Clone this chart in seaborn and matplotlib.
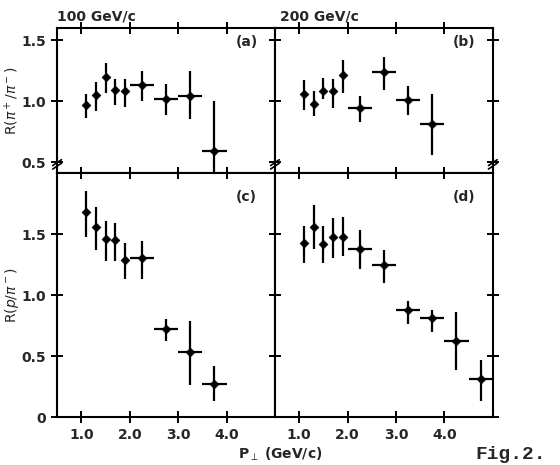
import matplotlib
matplotlib.use("Agg")
import matplotlib.pyplot as plt
import seaborn as sns
import pandas as pd

# P_perp bin centres (GeV/c) and half widths
pt = [1.1, 1.3, 1.5, 1.7, 1.9, 2.25, 2.75, 3.25, 3.75]
pt_d = [1.1, 1.3, 1.5, 1.7, 1.9, 2.25, 2.75, 3.25, 3.75, 4.25, 4.75]
xerr = [0.05, 0.05, 0.05, 0.05, 0.05, 0.25, 0.25, 0.25, 0.25]
xerr_d = [0.05, 0.05, 0.05, 0.05, 0.05, 0.25, 0.25, 0.25, 0.25, 0.25, 0.25]

# (a) R(pi+/pi-) at 100 GeV/c
r_a = [0.97, 1.05, 1.20, 1.09, 1.08, 1.13, 1.02, 1.04, 0.59]
lo_a = [0.86, 0.92, 1.07, 0.97, 0.95, 1.00, 0.89, 0.85, 0.40]
hi_a = [1.06, 1.16, 1.31, 1.18, 1.18, 1.25, 1.14, 1.25, 1.00]

# (b) R(pi+/pi-) at 200 GeV/c
r_b = [1.06, 0.98, 1.08, 1.08, 1.21, 0.94, 1.24, 1.01, 0.81]
lo_b = [0.93, 0.88, 1.02, 0.94, 1.07, 0.83, 1.09, 0.89, 0.56]
hi_b = [1.17, 1.08, 1.19, 1.18, 1.34, 1.04, 1.36, 1.12, 1.06]

# (c) R(p/pi-) at 100 GeV/c
r_c = [1.68, 1.56, 1.46, 1.45, 1.29, 1.30, 0.72, 0.53, 0.27]
lo_c = [1.48, 1.37, 1.28, 1.28, 1.13, 1.13, 0.62, 0.26, 0.13]
hi_c = [1.85, 1.72, 1.61, 1.59, 1.43, 1.44, 0.80, 0.79, 0.42]

# (d) R(p/pi-) at 200 GeV/c
r_d = [1.43, 1.56, 1.42, 1.48, 1.48, 1.38, 1.25, 0.88, 0.81, 0.62, 0.31]
lo_d = [1.26, 1.38, 1.26, 1.30, 1.32, 1.21, 1.10, 0.76, 0.70, 0.39, 0.13]
hi_d = [1.57, 1.74, 1.57, 1.63, 1.64, 1.53, 1.37, 0.95, 0.88, 0.86, 0.47]

xticks = [1.0, 2.0, 3.0, 4.0]
xticklabels = ["1.0", "2.0", "3.0", "4.0"]
yticks_top = [0.5, 1.0, 1.5]
yticks_bot = [0, 0.5, 1.0, 1.5]

sns.set_theme(style="ticks")
plt.rcParams["font.family"] = ["DejaVu Sans"]
plt.rcParams["mathtext.fontset"] = "dejavusans"

fig, axes = plt.subplots(2, 2, figsize=(5.6, 4.65), dpi=100,
                         gridspec_kw=dict(height_ratios=[1.19, 2.0]))
fig.subplots_adjust(left=0.102, right=0.880, top=0.940, bottom=0.103,
                    wspace=0, hspace=0)

panels = [
    (axes[0, 0], pt, xerr, r_a, lo_a, hi_a, "(a)"),
    (axes[0, 1], pt, xerr, r_b, lo_b, hi_b, "(b)"),
    (axes[1, 0], pt, xerr, r_c, lo_c, hi_c, "(c)"),
    (axes[1, 1], pt_d, xerr_d, r_d, lo_d, hi_d, "(d)"),
]

for ax, x, xe, y, lo, hi, lab in panels:
    df = pd.DataFrame({"pt": x, "r": y, "lo": lo, "hi": hi, "xe": xe})
    ax.errorbar(df["pt"], df["r"], xerr=df["xe"],
                yerr=[df["r"] - df["lo"], df["hi"] - df["r"]],
                fmt="none", ecolor="black", elinewidth=1.6, capsize=0,
                clip_on=True)
    sns.scatterplot(data=df, x="pt", y="r", ax=ax, color="black",
                    marker="D", s=20, edgecolor="black", linewidth=0.5,
                    zorder=3)
    ax.set_xlim(0.5, 5.0)
    ax.set_xticks(xticks)
    ax.set_xlabel("")
    ax.set_ylabel("")
    ax.text(0.87, 0.90, lab, transform=ax.transAxes, ha="center",
            va="center", fontsize=10, fontweight="bold")
    for s in ax.spines.values():
        s.set_linewidth(1.5)
        s.set_color("black")
    ax.tick_params(top=True, right=True, direction="inout", length=9,
                   width=1.4, color="black", labelsize=10)

for ax in axes[0]:
    ax.set_ylim(0.41, 1.60)
    ax.set_yticks(yticks_top)
    ax.tick_params(labelbottom=False)
for ax in axes[1]:
    ax.set_ylim(0, 2.0)
    ax.set_yticks(yticks_bot)
    ax.set_xticklabels(xticklabels, fontweight="bold")
for ax in axes[:, 1]:
    ax.tick_params(labelleft=False)

axes[0, 0].set_yticklabels(["0.5", "1.0", "1.5"], fontweight="bold")
axes[1, 0].set_yticklabels(["0", "0.5", "1.0", "1.5"], fontweight="bold")

axes[0, 0].set_ylabel(r"R$(\pi^+/\pi^-)$", fontsize=10)
axes[1, 0].set_ylabel(r"R$(p/\pi^-)$", fontsize=10)
axes[0, 0].yaxis.set_label_coords(-0.165, 0.5)
axes[1, 0].yaxis.set_label_coords(-0.165, 0.5)

# axis-break marks on the top panels
for ax, xs in [(axes[0, 0], [0.0]), (axes[0, 1], [0.0, 1.0])]:
    for xa in xs:
        for dy in (-0.012, 0.012):
            ax.plot([xa - 0.02, xa + 0.02], [0.06 + dy - 0.02, 0.06 + dy + 0.02],
                    transform=ax.transAxes, color="black", lw=1.2,
                    clip_on=False, zorder=5)

fig.text(0.102, 0.965, "100 GeV/c", fontsize=10, fontweight="bold",
         ha="left", va="center")
fig.text(0.50, 0.965, "200 GeV/c", fontsize=10, fontweight="bold",
         ha="left", va="center")
fig.text(0.50, 0.022, r"P$_\perp$ (GeV/c)", fontsize=10, fontweight="bold",
         ha="center", va="center")
fig.text(0.848, 0.022, "Fig.2.", fontsize=14, family="Liberation Mono",
         fontweight="bold", ha="left", va="center")

fig.savefig("out.png", dpi=100)
